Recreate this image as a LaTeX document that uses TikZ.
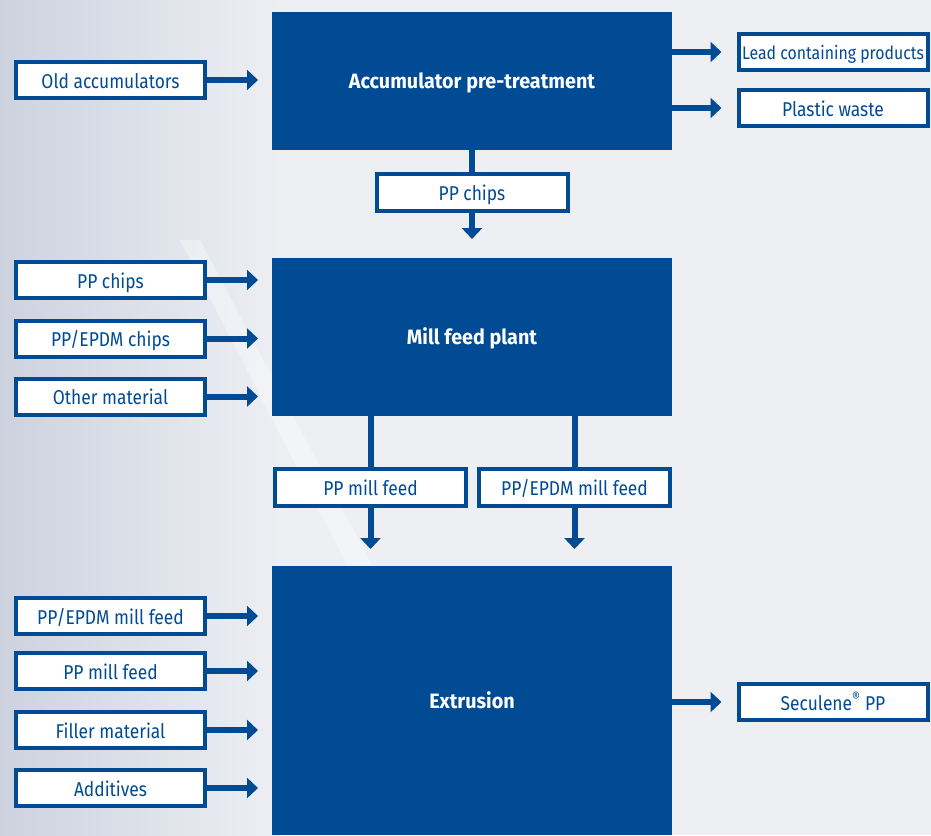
\documentclass[tikz,border=0pt]{standalone}
\usepackage{fontspec}
\setmainfont{Fira Sans}[FakeStretch=0.87]
\newfontfamily\boldf{Fira Sans}[FakeStretch=0.95]
\usetikzlibrary{arrows.meta,calc}
\definecolor{bblue}{HTML}{004B93}
\definecolor{bg}{HTML}{EDEFF3}
\definecolor{bgdark}{HTML}{CDD2DF}
\begin{document}
\begin{tikzpicture}[x=1pt,y=-1pt,
  bigbox/.style={fill=bblue,text=white,font=\boldf\bfseries\fontsize{20.8}{24}\selectfont,text height=15.3pt,text depth=0pt,inner sep=0pt,outer sep=0pt},
  smallbox/.style={draw=bblue,line width=4pt,fill=white,text=bblue,minimum width=189pt,minimum height=36pt,inner sep=0pt,font=\fontsize{20}{24}\selectfont,text height=16.2pt,text depth=0pt},
  flow/.style={draw=bblue,line width=6pt,-{Triangle[length=11pt,width=20pt]}},
  link/.style={draw=bblue,line width=6pt}]
\useasboundingbox (0,0) rectangle (931,835);
\fill[bg] (0,0) rectangle (931,835);
\shade[left color=bgdark,right color=bg] (0,0) rectangle (280,835);
\fill[white,opacity=0.35] (180,240) -- (200,240) -- (380,580) -- (355,580) -- cycle;

% big boxes
\node[bigbox,minimum width=400pt,minimum height=138pt] (acc) at (472,81) {Accumulator pre-treatment};
\node[bigbox,minimum width=400pt,minimum height=158pt] (mill) at (472,337) {Mill feed plant};
\node[bigbox,minimum width=400pt,minimum height=269pt] (ext) at (472,700.5) {Extrusion};

% small boxes
\node[smallbox,font=\fontsize{18.2}{22}\selectfont,text height=15pt] (lead) at (833,52) {Lead containing products};
\node[smallbox] (old) at (110.5,80) {Old accumulators};
\node[smallbox] (waste) at (833,108) {Plastic waste};
\node[smallbox,minimum width=191pt,minimum height=37pt] (chips) at (472,192.5) {PP chips};
\node[smallbox] (pc) at (110.5,280) {PP chips};
\node[smallbox] (epc) at (110.5,338.5) {PP/EPDM chips};
\node[smallbox] (other) at (110.5,396.5) {Other material};
\node[smallbox,minimum width=191pt,minimum height=37pt] (ppmf) at (370.5,487.5) {PP mill feed};
\node[smallbox,minimum width=191pt,minimum height=37pt] (epmf) at (574.5,487.5) {PP/EPDM mill feed};
\node[smallbox] (lm1) at (110.5,616) {PP/EPDM mill feed};
\node[smallbox] (lm2) at (110.5,671) {PP mill feed};
\node[smallbox] (fill) at (110.5,730) {Filler material};
\node[smallbox] (add) at (110.5,788) {Additives};
\node[smallbox] (sec) at (833,702) {Seculene\textsuperscript{®} PP};

% connectors
\draw[flow] (old.east) -- ($(acc.west |- old.east)+(-14,0)$);
\draw[flow] (acc.east |- lead.west) -- ($(lead.west)+(-15,0)$);
\draw[flow] (acc.east |- waste.west) -- ($(waste.west)+(-15,0)$);
\draw[link] (acc.south) -- (chips.north);
\draw[flow] (chips.south) -- ($(mill.north)+(0,-19)$);
\foreach \n in {pc,epc,other}
  \draw[flow] (\n.east) -- ($(mill.west |- \n.east)+(-14,0)$);
\draw[link] (mill.south -| ppmf.north) -- (ppmf.north);
\draw[link] (mill.south -| epmf.north) -- (epmf.north);
\draw[flow] (ppmf.south) -- ($(ext.north -| ppmf.south)+(0,-17)$);
\draw[flow] (epmf.south) -- ($(ext.north -| epmf.south)+(0,-17)$);
\foreach \n in {lm1,lm2,fill,add}
  \draw[flow] (\n.east) -- ($(ext.west |- \n.east)+(-14,0)$);
\draw[flow] (ext.east |- sec.west) -- ($(sec.west)+(-15,0)$);
\end{tikzpicture}
\end{document}
